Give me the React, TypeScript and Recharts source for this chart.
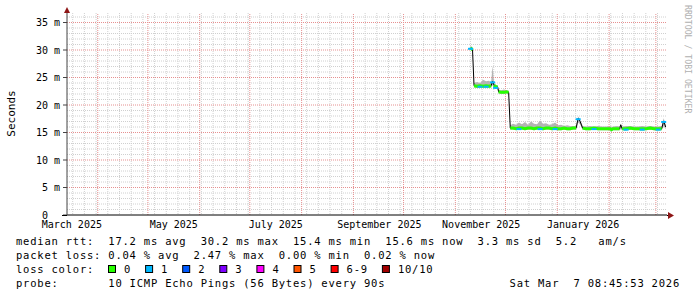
import { ComposedChart, Area, Line, Scatter, XAxis, YAxis, CartesianGrid, ReferenceLine } from 'recharts';

const MONO = '"DejaVu Sans Mono", "Liberation Mono", monospace';
const DAY = 86400000;
const START = Date.UTC(2025, 2, 13, 14);
const END = Date.UTC(2026, 2, 7, 16);
const SPAN = (END - START) / DAY;
const dayOf = (t: number) => (t - START) / DAY;

const monthNames = ['January', 'February', 'March', 'April', 'May', 'June', 'July', 'August', 'September', 'October', 'November', 'December'];
const labelMonths: [number, number][] = [[2025, 2], [2025, 4], [2025, 6], [2025, 8], [2025, 10], [2026, 0]];
const yTicks = [0, 5, 10, 15, 20, 25, 30, 35];

// sample times, days since graph start
const sampleDay = [
  241.5, 242.7, 243.6, 245.4, 247.2, 249.0, 250.8, 252.6, 253.8, 254.7, 255.6, 256.5, 257.7,
  258.3, 259.8, 261.6, 263.1, 264.3, 265.3, 266.9, 268.8, 270.5, 272.3, 274.1, 275.9, 277.7,
  279.5, 281.3, 283.1, 284.9, 286.7, 288.5, 290.3, 292.1, 293.9, 295.7, 297.5, 299.3, 301.1,
  302.9, 304.7, 305.9, 307.1, 308.6, 310.6, 313.0, 315.4, 317.8, 320.2, 322.6, 325.0, 325.9,
  326.8, 329.2, 330.7, 331.4, 332.2, 334.6, 337.0, 339.4, 341.8, 344.2, 346.6, 349.0, 351.4,
  353.8, 355.9, 357.1, 358.3,
];
// median rtt, ms
const medianMs = [
  30.4, 30.0, 23.5, 23.4, 23.5, 23.4, 23.5, 23.4, 23.5, 24.3, 23.6, 23.3, 23.3,
  22.4, 22.3, 22.3, 22.4, 22.3, 15.8, 15.8, 15.7, 15.8, 15.8, 15.7, 15.8, 15.8,
  15.7, 15.8, 15.8, 15.7, 15.8, 15.8, 15.7, 15.8, 15.7, 15.7, 15.8, 15.7, 15.7,
  15.8, 15.8, 17.6, 17.0, 15.8, 15.7, 15.7, 15.8, 15.7, 15.7, 15.7, 15.7, 15.5,
  15.7, 15.7, 15.7, 16.4, 15.7, 15.7, 15.8, 15.7, 15.7, 15.7, 15.7, 15.8, 15.7,
  15.7, 15.7, 17.1, 16.0,
];
// smoke (min / max of the pings), ms
const smokeLowMs = [
  30.1, 29.7, 23.2, 23.1, 23.2, 23.1, 23.2, 23.1, 23.2, 23.6, 23.3, 23.0, 23.0,
  22.1, 22.0, 22.0, 22.1, 22.0, 15.5, 15.5, 15.4, 15.5, 15.5, 15.4, 15.5, 15.5,
  15.4, 15.5, 15.5, 15.4, 15.5, 15.5, 15.4, 15.5, 15.4, 15.4, 15.5, 15.4, 15.4,
  15.5, 15.5, 16.8, 16.5, 15.5, 15.4, 15.4, 15.5, 15.4, 15.4, 15.4, 15.4, 15.2,
  15.4, 15.4, 15.4, 15.6, 15.4, 15.4, 15.5, 15.4, 15.4, 15.4, 15.4, 15.5, 15.4,
  15.4, 15.4, 16.2, 15.6,
];
const smokeHighMs = [
  30.8, 30.4, 24.0, 24.2, 24.0, 24.6, 24.3, 24.4, 24.1, 27.1, 24.0, 23.7, 23.6,
  22.8, 22.7, 22.8, 22.7, 22.6, 16.3, 16.6, 16.4, 16.8, 16.5, 16.9, 16.4, 17.0,
  16.6, 16.5, 17.2, 16.6, 16.7, 16.4, 16.5, 16.8, 16.3, 16.4, 16.2, 16.3, 16.2,
  16.2, 16.2, 17.9, 17.4, 16.2, 16.1, 16.2, 16.1, 16.2, 16.1, 16.1, 16.2, 16.0,
  16.1, 16.2, 16.1, 16.6, 16.1, 16.2, 16.2, 16.1, 16.1, 16.2, 16.1, 16.2, 16.1,
  16.1, 16.2, 17.6, 16.4,
];
// lost pings out of 10
const lossPings = [
  1, 0, 0, 0, 1, 0, 1, 0, 0, 1, 0, 1, 0,
  0, 0, 0, 0, 0, 0, 0, 0, 1, 0, 0, 0, 0,
  0, 0, 1, 0, 0, 0, 0, 1, 0, 0, 0, 0, 0,
  0, 0, 1, 0, 0, 0, 0, 1, 0, 0, 0, 0, 0,
  0, 0, 0, 0, 0, 1, 0, 0, 0, 1, 0, 0, 0,
  1, 0, 1, 0,
];

const lossLabels = ['0', '1', '2', '3', '4', '5', '6-9', '10/10'];
const lossColors = ['#26ff00', '#00b8ff', '#0059ff', '#7e00ff', '#ff00ff', '#ff5500', '#ff0000', '#a10000'];

const rows = sampleDay.map((d, i) => ({ day: d, med: medianMs[i], smoke: [smokeLowMs[i], smokeHighMs[i]] }));

// green median only on the level parts, jumps stay black
const greenRows: { day: number; med: number | null }[] = [];
rows.forEach((r, i) => {
  if (i > 0 && Math.abs(r.med - rows[i - 1].med) > 0.5) greenRows.push({ day: (r.day + rows[i - 1].day) / 2, med: null });
  greenRows.push({ day: r.day, med: r.med });
});
const lossRows = rows.filter((_, i) => lossPings[i] > 0);

const minorY = Array.from({ length: 37 }, (_, i) => i).filter((v) => v % 5 !== 0);
const majorY = yTicks.filter((v) => v > 0);
const monthDays: number[] = [];
for (let m = 3; m <= 14; m++) monthDays.push(dayOf(Date.UTC(2025, m, 1)));
// weekly minor lines, skipped where a month line sits
const weekDays: number[] = [];
for (let t = Date.UTC(2025, 2, 17); t < END; t += 7 * DAY) {
  const d = dayOf(t);
  if (!monthDays.some((md) => Math.abs(md - d) < 0.6)) weekDays.push(d);
}
const labelDays = labelMonths.map(([y, m]) => dayOf(Date.UTC(y, m, 16, 12)));

const MGRID = '#e69090';

const XTick = ({ x, y, payload }: any) => {
  const [yr, m] = labelMonths[labelDays.indexOf(payload.value)] ?? labelMonths[0];
  return (
    <text x={x} y={y + 13} textAnchor="middle" fontFamily={MONO} fontSize={10} fill="#000">
      {`${monthNames[m]} ${yr}`}
    </text>
  );
};

const YTick = ({ x, y, payload }: any) => (
  <text x={x} y={y + 3.5} textAnchor="end" fontFamily={MONO} fontSize={10} fill="#000" xmlSpace="preserve" style={{ whiteSpace: 'pre' }}>
    {payload.value === 0 ? '0  ' : `${payload.value} m`}
  </text>
);

const LossMark = ({ cx, cy }: any) => <rect x={cx - 2.5} y={cy} width={5} height={2} fill={lossColors[1]} />;

const legendText = {
  fontFamily: MONO,
  fontSize: 10.5,
  letterSpacing: 0.78,
  fill: '#000',
  style: { whiteSpace: 'pre' as const },
};

export default function App() {
  let boxX = 108;
  const boxes = lossLabels.map((label, i) => {
    const x = boxX;
    boxX += 16 + label.length * 7.1 + 14;
    return (
      <g key={label}>
        <rect x={x + 0.5} y={265.5} width={7} height={7} fill={lossColors[i]} stroke="#000" />
        <text x={x + 16} y={273} {...legendText}>{label}</text>
      </g>
    );
  });

  return (
    <div style={{ position: 'absolute', left: 0, top: 0, width: 697, height: 297, background: '#fff' }}>
      <ComposedChart width={697} height={297} data={rows} margin={{ top: 13, right: 30, bottom: 62, left: 0 }}>
        <CartesianGrid horizontalValues={minorY} verticalValues={weekDays} stroke="#d0d0d0" strokeDasharray="1 1" />
        {majorY.map((v) => (
          <ReferenceLine key={`h${v}`} y={v} stroke={MGRID} strokeDasharray="1 1" />
        ))}
        {monthDays.map((d) => (
          <ReferenceLine key={`v${d}`} x={d} stroke={MGRID} strokeDasharray="1 1" />
        ))}
        <XAxis
          dataKey="day"
          type="number"
          domain={[0, SPAN]}
          allowDataOverflow
          ticks={labelDays}
          interval={0}
          tick={<XTick />}
          tickLine={false}
          tickSize={0}
          tickMargin={0}
          height={20}
          axisLine={{ stroke: '#000' }}
        />
        <YAxis
          type="number"
          domain={[0, 36.73]}
          allowDataOverflow
          ticks={yTicks}
          interval={0}
          tick={<YTick />}
          tickSize={4}
          tickMargin={3}
          tickLine={{ stroke: '#444' }}
          width={67}
          axisLine={{ stroke: '#444' }}
        />
        <Area dataKey="smoke" type="linear" fill="#b4b4b4" fillOpacity={1} stroke="none" isAnimationActive={false} />
        <Line dataKey="med" type="linear" stroke="#000" strokeWidth={1} dot={false} activeDot={false} isAnimationActive={false} />
        <Line data={greenRows} dataKey="med" type="linear" stroke={lossColors[0]} strokeWidth={3} dot={false} activeDot={false} connectNulls={false} isAnimationActive={false} />
        <Scatter data={lossRows} dataKey="med" shape={<LossMark />} isAnimationActive={false} />
      </ComposedChart>

      <svg width={697} height={297} style={{ position: 'absolute', left: 0, top: 0, pointerEvents: 'none' }}>
        <line x1={62} y1={215.5} x2={67} y2={215.5} stroke="#000" />
        <line x1={667} y1={215.5} x2={669} y2={215.5} stroke="#000" />
        <line x1={67.5} y1={13} x2={67.5} y2={10} stroke="#444" />
        <polygon points="64,13 70,13 67,7" fill="#8e1616" />
        <polygon points="668,212 668,219 674,215.5" fill="#8e1616" />

        <text transform="translate(15,113.5) rotate(-90)" textAnchor="middle" fontFamily={MONO} fontSize={11} fill="#000">Seconds</text>
        <text transform="translate(684.5,5) rotate(90)" fontFamily={MONO} fontSize={8.2} fill="#b0b0b0">RRDTOOL / TOBI OETIKER</text>

        <text x={16} y={245} {...legendText}>median rtt:  17.2 ms avg  30.2 ms max  15.4 ms min  15.6 ms now  3.3 ms sd  5.2   am/s</text>
        <text x={16} y={259} {...legendText}>packet loss: 0.04 % avg  2.47 % max  0.00 % min  0.02 % now</text>
        <text x={16} y={273} {...legendText}>loss color:</text>
        {boxes}
        <text x={16} y={287} {...legendText}>probe:       10 ICMP Echo Pings (56 Bytes) every 90s</text>
        <text x={680} y={287} textAnchor="end" {...legendText}>Sat Mar  7 08:45:53 2026</text>
      </svg>
    </div>
  );
}
